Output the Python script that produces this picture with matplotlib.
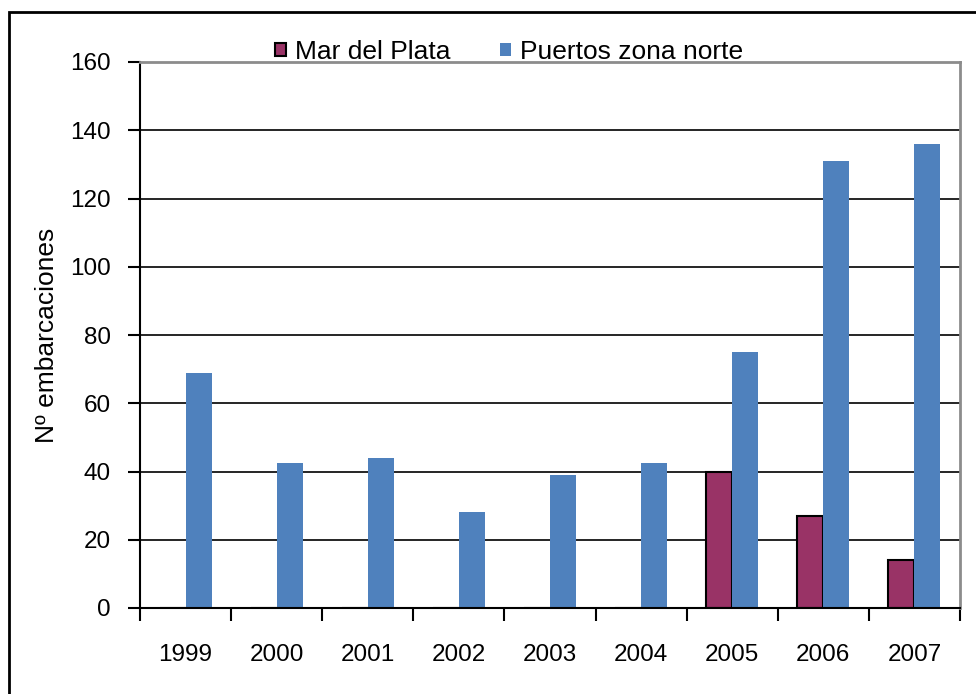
import numpy as np
import matplotlib
matplotlib.use("Agg")
from matplotlib import pyplot as plt
from matplotlib.patches import Rectangle

plt.rcParams['font.family'] = ['Liberation Sans', 'DejaVu Sans']

years = ['1999', '2000', '2001', '2002', '2003', '2004', '2005', '2006', '2007']
mar_del_plata = [0, 0, 0, 0, 0, 0, 40, 27, 14]
puertos_norte = [69, 42.5, 44, 28, 39, 42.5, 75, 131, 136]
yticks = [0, 20, 40, 60, 80, 100, 120, 140, 160]

fig = plt.figure(figsize=(9.76, 6.94), dpi=100)
ax = fig.add_axes([140 / 976, 1 - 608 / 694, 820 / 976, 546 / 694])

# outer chart frame (left and top edges visible)
fig.patches.append(Rectangle((9 / 976, -0.05), 1.1, 1 - 12 / 694 + 0.05,
                             transform=fig.transFigure, fill=False,
                             edgecolor='black', linewidth=2))

x = np.arange(len(years)) + 0.5
w = 0.285
ax.bar(x - w / 2, mar_del_plata, w, color='#993366', edgecolor='black',
       linewidth=1.5, label='Mar del Plata', zorder=3)
ax.bar(x + w / 2, puertos_norte, w, color='#4F81BD', edgecolor='none',
       label='Puertos zona norte', zorder=3)

ax.set_xlim(0, len(years))
ax.set_ylim(0, 160)
ax.set_yticks(yticks)
ax.tick_params(axis='y', direction='out', length=9, width=1.5,
               labelsize=17.5, pad=12)
ax.yaxis.grid(True, color='black', linewidth=1.2, zorder=0)

ax.set_xticks(np.arange(len(years) + 1))
ax.set_xticklabels([])
ax.tick_params(axis='x', which='major', direction='out', length=9, width=1.5)
ax.set_xticks(x, minor=True)
ax.set_xticklabels(years, minor=True, fontsize=17.5)
ax.tick_params(axis='x', which='minor', length=0, pad=26)

for s in ['left', 'bottom']:
    ax.spines[s].set_color('black')
    ax.spines[s].set_linewidth(1.5)
for s in ['top', 'right']:
    ax.spines[s].set_color('#8c8c8c')
    ax.spines[s].set_linewidth(2)
ax.spines['bottom'].set_zorder(4)

ax.set_ylabel('Nº embarcaciones', fontsize=19, labelpad=8)

fig.legend(loc='center', bbox_to_anchor=(509 / 976, 1 - 52 / 694), ncol=2,
           frameon=False, fontsize=19, handlelength=0.42, handleheight=0.42,
           handletextpad=0.35, columnspacing=1.85, borderpad=0)

fig.savefig('out.png', dpi=100)
